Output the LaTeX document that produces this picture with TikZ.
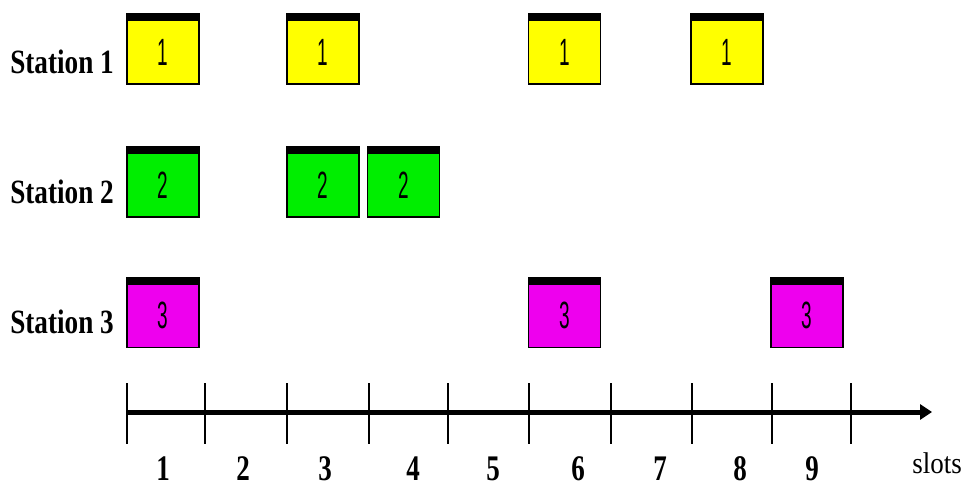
\documentclass[tikz,border=0pt]{standalone}
\usepackage{fontspec}
\setmainfont{Liberation Serif}
\newfontfamily\boxfont{Liberation Sans}
\usetikzlibrary{arrows.meta}
\definecolor{syellow}{RGB}{255,255,0}
\definecolor{sgreen}{RGB}{0,238,0}
\definecolor{smagenta}{RGB}{238,0,238}
\tikzset{
  slotbox/.style={draw=black, line width=1.2pt, minimum width=72pt, minimum height=70pt,
    inner sep=0pt, fill=#1,
    path picture={\fill[black] (path picture bounding box.north west) rectangle ([yshift=-7pt]path picture bounding box.north east);}},
  boxnum/.style={font=\boxfont\fontsize{38}{38}\selectfont, inner sep=0pt},
  stlabel/.style={font=\bfseries\fontsize{34}{34}\selectfont, anchor=base east, inner sep=0pt},
  slotnum/.style={font=\bfseries\fontsize{36}{36}\selectfont, anchor=base, inner sep=0pt},
  tick/.style={line width=1.3pt},
  bigtick/.style={line width=2.6pt},
}
\newcommand{\cond}[1]{\scalebox{0.8}[1]{#1}}
\newcommand{\thin}[1]{\scalebox{0.5}[1]{#1}}
\begin{document}
\begin{tikzpicture}[x=1pt,y=-1pt]
\useasboundingbox (0,0) rectangle (968,489);
% station labels
\node[stlabel] (l1) at (114,74) {\cond{Station 1}};
\node[stlabel] (l2) at (114,203) {\cond{Station 2}};
\node[stlabel] (l3) at (114,333) {\cond{Station 3}};
% station 1
\foreach \n/\x in {a/163,b/323,c/564.5,d/727}{
  \node[slotbox=syellow] (s1\n) at (\x,49) {};
  \node[boxnum] (t1\n) at (\x,52) {\thin{1}};
}
\foreach \n/\x in {a/163,b/323,c/403.5}{
  \node[slotbox=sgreen] (s2\n) at (\x,182) {};
  \node[boxnum] (t2\n) at (\x,185) {\thin{2}};
}
\foreach \n/\x in {a/163,b/564.5,c/807}{
  \node[slotbox=smagenta] (s3\n) at (\x,312.5) {};
  \node[boxnum] (t3\n) at (\x,315.5) {\thin{3}};
}
% axis
\coordinate (ax0) at (127,412);
\coordinate (axend) at (932,412);
\draw[line width=5pt, -{Triangle[length=12pt,width=15pt]}] (ax0) -- (axend);
\foreach \i/\x in {0/127,2/287,3/369,5/529,6/611,7/692,8/772,9/851}{
  \coordinate (tt\i) at (\x,383);
  \coordinate (tb\i) at (\x,444);
  \draw[tick] (tt\i) -- (tb\i);
}
\foreach \i/\x in {1/205,4/448}{
  \coordinate (tt\i) at (\x,383);
  \coordinate (tb\i) at (\x,444);
  \draw[bigtick] (tt\i) -- (tb\i);
}
% slot numbers
\foreach \k/\x in {1/163,2/243,3/325,4/413,5/493,6/578,7/660,8/740,9/812}{
  \node[slotnum] (n\k) at (\x,480) {\scalebox{0.75}[1]{\k}};
}
\node[font=\fontsize{30}{30}\selectfont, anchor=base, inner sep=0pt] (slots) at (937,473) {\scalebox{0.9}[1]{slots}};
\end{tikzpicture}
\end{document}
